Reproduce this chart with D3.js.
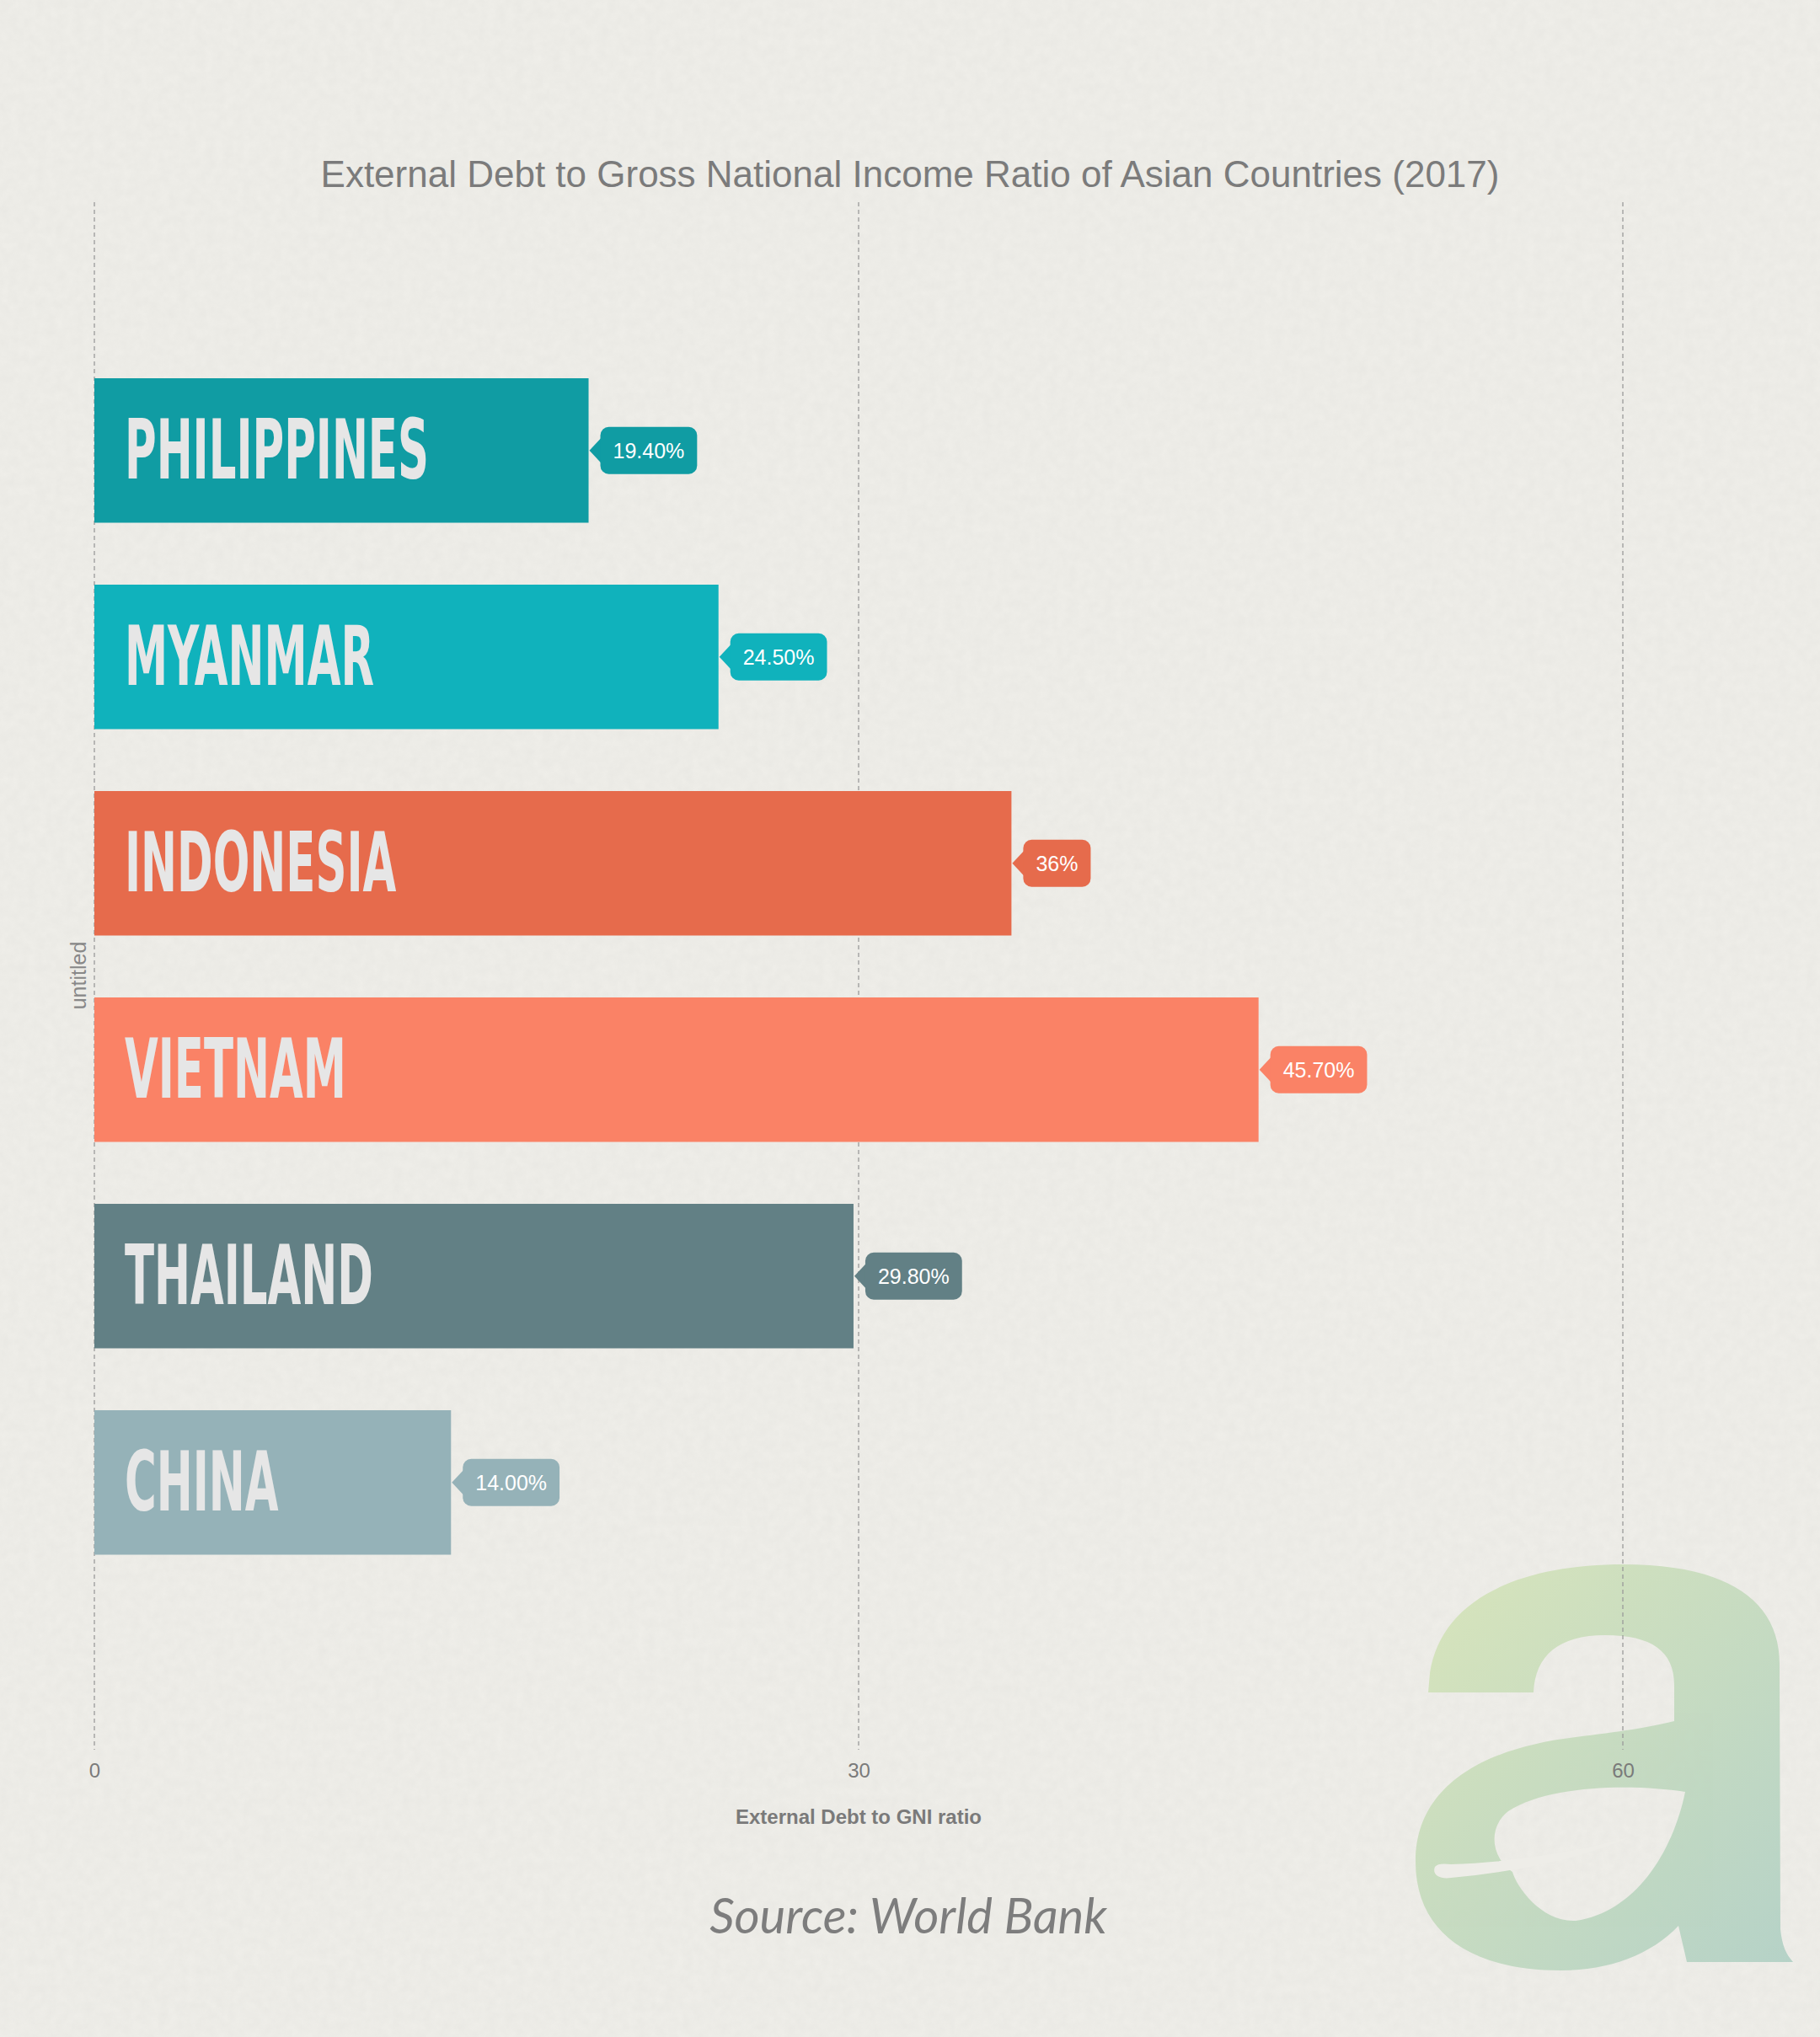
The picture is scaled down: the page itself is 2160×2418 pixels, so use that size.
<!DOCTYPE html>
<html>
<head>
<meta charset="utf-8">
<script src="https://cdn.jsdelivr.net/npm/d3@7"></script>
<style>
html,body{margin:0;padding:0;background:#eeede8;}
svg{display:block;}
</style>
</head>
<body>
<script>
const countries = ["PHILIPPINES","MYANMAR","INDONESIA","VIETNAM","THAILAND","CHINA"];
const values = [19.4, 24.5, 36, 45.7, 29.8, 14];
const valueLabels = ["19.40%","24.50%","36%","45.70%","29.80%","14.00%"];
const colors = ["#109ca3","#10b2bc","#e66b4c","#fa8266","#628085","#95b2b8"];
const xTicks = [0, 30, 60];
const titleText = "External Debt to Gross National Income Ratio of Asian Countries (2017)";
const xAxisTitle = "External Debt to GNI ratio";
const yAxisTitle = "untitled";
const sourceText = "Source: World Bank";

const W = 2160, H = 2418;
const svg = d3.select("body").append("svg").attr("width", W).attr("height", H);

// background with subtle texture
const defs = svg.append("defs");
const filt = defs.append("filter").attr("id","tex").attr("x",0).attr("y",0).attr("width","100%").attr("height","100%");
filt.append("feTurbulence").attr("type","fractalNoise").attr("baseFrequency","0.09").attr("numOctaves",3).attr("seed",4).attr("result","n");
filt.append("feColorMatrix").attr("type","matrix")
  .attr("values","0 0 0 0 0.5  0 0 0 0 0.5  0 0 0 0 0.48  0 0 0 -1.2 1.1");
svg.append("rect").attr("width",W).attr("height",H).attr("fill","#efeee9");
svg.append("rect").attr("width",W).attr("height",H).attr("filter","url(#tex)").attr("opacity",0.10);

// logo gradient
const grad = defs.append("linearGradient").attr("id","lg").attr("x1","0").attr("y1","0").attr("x2","1").attr("y2","1");
grad.append("stop").attr("offset","0%").attr("stop-color","#d6e4b6");
grad.append("stop").attr("offset","100%").attr("stop-color","#afcfc4");

const logo = svg.append("g").attr("opacity",0.9);
logo.append("path").attr("fill","url(#lg)").attr("fill-rule","evenodd")
  .attr("d","M1697,1986 C1710,1900 1800,1857 1927,1857 C2050,1857 2112,1900 2112,1975 L2113,2290 C2115,2310 2120,2320 2128,2329 L2002,2329 L1992,2286 C1960,2320 1910,2339 1853,2339 C1740,2339 1680,2290 1680,2210 C1680,2120 1760,2075 1870,2062 C1920,2056 1960,2050 1987,2043 L1987,2000 C1987,1960 1960,1941 1905,1941 C1850,1941 1822,1965 1820,2009 L1695,2009 Z " +
     "M2000,2127 C1940,2118 1840,2118 1790,2150 C1765,2170 1770,2205 1795,2222 C1800,2240 1830,2282 1870,2280 C1940,2270 1985,2200 2000,2127 Z");
logo.append("path").attr("fill","#efeee9")
  .attr("d","M1703,2216 C1699,2226 1710,2231 1722,2229 C1800,2222 1880,2205 1935,2180 C1880,2198 1790,2211 1722,2213 C1713,2212 1706,2212 1703,2216 Z");

// scales
const x = d3.scaleLinear().domain([0, 60]).range([112, 1926]);
const y = d3.scaleBand().domain(countries).range([449, 1845.5]).paddingInner(0.3).paddingOuter(0);

const gridTop = 240, gridBottom = 2077;

// grid lines
svg.append("g").selectAll("line").data(xTicks).join("line")
  .attr("x1", d => x(d)).attr("x2", d => x(d))
  .attr("y1", gridTop).attr("y2", gridBottom)
  .attr("stroke","#9a9a9a").attr("stroke-width",1.3).attr("stroke-dasharray","5,4");

// x axis tick labels
const xAxis = d3.axisBottom(x).tickValues(xTicks).tickSize(0).tickPadding(0);
const gx = svg.append("g").attr("transform",`translate(0,${gridBottom + 16})`).call(xAxis);
gx.select(".domain").remove();
gx.selectAll("text").attr("font-family","Liberation Sans, Arial, sans-serif").attr("font-size",24)
  .attr("fill","#7a7a7a").attr("dy","0.71em");

// title
svg.append("text").attr("x", W/2).attr("y", 222).attr("text-anchor","middle")
  .attr("font-family","Liberation Sans, Arial, sans-serif").attr("font-size",44).attr("fill","#7b7b7b")
  .text(titleText);

// x axis title
svg.append("text").attr("x", x(30)).attr("y", 2165).attr("text-anchor","middle")
  .attr("font-family","Liberation Sans, Arial, sans-serif").attr("font-size",24).attr("font-weight","bold").attr("fill","#7a7a7a")
  .text(xAxisTitle);

// y axis title
svg.append("text").attr("transform",`translate(102,1158) rotate(-90)`).attr("text-anchor","middle")
  .attr("font-family","Liberation Sans, Arial, sans-serif").attr("font-size",25).attr("fill","#888")
  .text(yAxisTitle);

// bars
const rows = countries.map((c,i) => ({c, v: values[i], lab: valueLabels[i], col: colors[i]}));
const g = svg.append("g");
const row = g.selectAll("g.row").data(rows).join("g").attr("class","row");
row.append("rect")
  .attr("x", x(0)).attr("y", d => y(d.c))
  .attr("width", d => x(d.v) - x(0)).attr("height", y.bandwidth())
  .attr("fill", d => d.col);

// country labels (condensed, Bebas-like)
const labels = row.append("text")
  .attr("font-family","Liberation Sans Narrow, DejaVu Sans Condensed, Liberation Sans, sans-serif")
  .attr("font-weight","bold").attr("font-size",98).attr("fill","#e6e6e6")
  .text(d => d.c);
const refW = labels.filter((d,i)=> i===0).node().getComputedTextLength();
const sx = 361 / refW;
labels.attr("transform", d => `translate(${x(0)+36},${y(d.c) + y.bandwidth()/2 + 33}) scale(${sx},1)`);

// value bubbles
const bh = 56, gap = 14, ah = 15;
row.each(function(d){
  const sel = d3.select(this);
  const bx = x(d.v);
  const cy = y(d.c) + y.bandwidth()/2;
  const t = sel.append("text")
    .attr("font-family","Liberation Sans, Arial, sans-serif").attr("font-size",25).attr("fill","#ffffff")
    .attr("x", bx + gap + 15).attr("y", cy + 9).text(d.lab);
  const tw = t.node().getComputedTextLength();
  sel.insert("path","text:last-child")
    .attr("fill", d.col)
    .attr("d", `M${bx+1},${cy} L${bx+gap+1},${cy-ah} L${bx+gap+1},${cy+ah} Z`);
  sel.insert("rect","text:last-child")
    .attr("x", bx + gap).attr("y", cy - bh/2).attr("width", tw + 30).attr("height", bh)
    .attr("rx", 10).attr("fill", d.col);
});

// source
svg.append("text").attr("x", 1078).attr("y", 2295).attr("text-anchor","middle")
  .attr("font-family","Lato, sans-serif").attr("font-style","italic").attr("font-size",58).attr("fill","#7d7d7d")
  .text(sourceText);
</script>
</body>
</html>
